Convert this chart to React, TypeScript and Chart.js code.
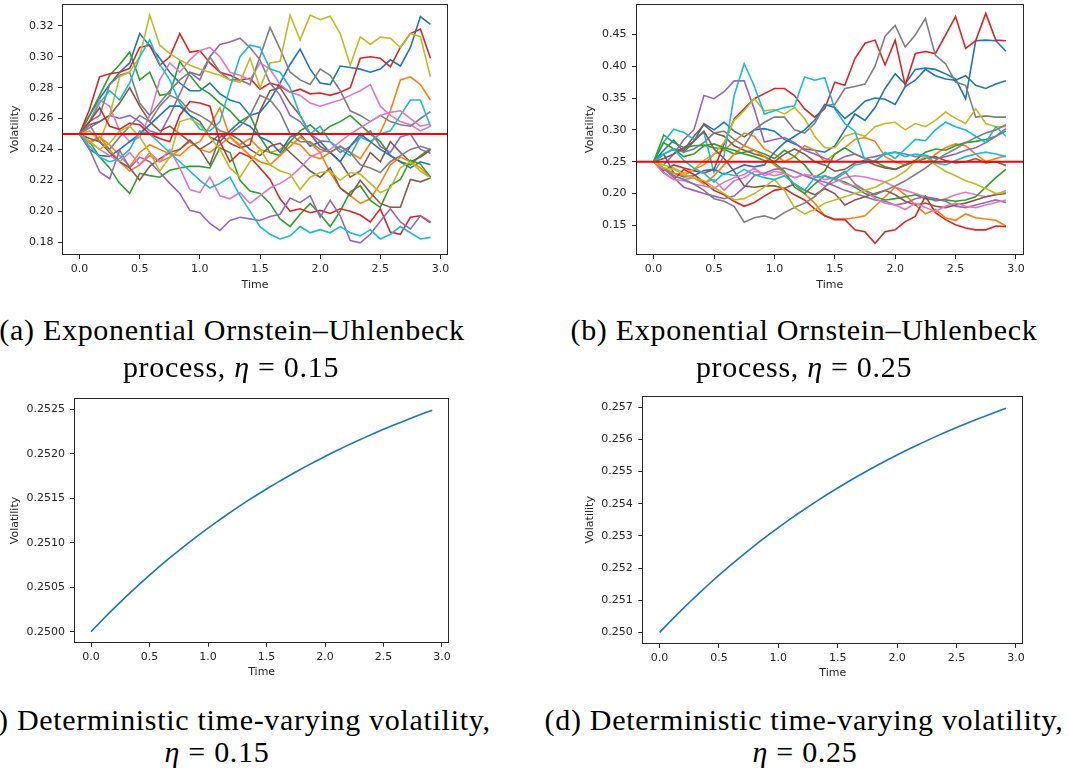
import React, { useEffect, useRef } from "react";
import { Chart, registerables } from "chart.js";

Chart.register(...registerables);

// ---------- data ----------
const timeGrid = [
  0.0, 0.0833, 0.1667, 0.25, 0.3333, 0.4167, 0.5, 0.5833, 0.6667, 0.75, 0.8333, 0.9167,
  1.0, 1.0833, 1.1667, 1.25, 1.3333, 1.4167, 1.5, 1.5833, 1.6667, 1.75, 1.8333, 1.9167,
  2.0, 2.0833, 2.1667, 2.25, 2.3333, 2.4167, 2.5, 2.5833, 2.6667, 2.75, 2.8333, 2.9167,
];
const meanLevel = 0.25;
const xTickLabels = ["0.0", "0.5", "1.0", "1.5", "2.0", "2.5", "3.0"];

// (a) exponential OU, eta = 0.15
const a00 = [.250,.262,.273,.282,.290,.296,.315,.307,.299,.290,.283,.278,.278,.283,.276,.272,.270,.262,.264,.272,.283,.295,.305,.292,.283,.282,.294,.293,.292,.290,.292,.298,.294,.306,.326,.321];
const a01 = [.250,.244,.248,.243,.236,.229,.238,.243,.240,.237,.236,.242,.245,.255,.267,.248,.243,.247,.240,.238,.240,.245,.243,.236,.234,.238,.242,.238,.234,.244,.251,.265,.285,.287,.282,.272];
const a02 = [.250,.262,.275,.288,.295,.303,.285,.290,.275,.276,.297,.288,.280,.276,.270,.265,.258,.262,.248,.238,.236,.245,.252,.256,.250,.255,.258,.262,.256,.250,.245,.236,.232,.230,.236,.2405];
const a03 = [.250,.266,.287,.289,.290,.2925,.306,.3075,.2945,.300,.315,.303,.304,.296,.290,.288,.285,.286,.279,.283,.281,.277,.279,.276,.2765,.275,.277,.280,.299,.300,.299,.2935,.306,.315,.318,.299];
const a04 = [.250,.254,.258,.262,.260,.262,.258,.252,.250,.262,.276,.290,.285,.300,.308,.3095,.312,.306,.298,.283,.275,.262,.258,.250,.2455,.245,.238,.242,.248,.252,.242,.238,.248,.250,.240,.2375];
const a05 = [.250,.256,.258,.262,.270,.280,.268,.258,.252,.255,.250,.245,.240,.244,.250,.244,.241,.243,.265,.278,.280,.270,.262,.250,.242,.238,.232,.222,.226,.238,.232,.245,.238,.232,.235,.2395];
const a06 = [.250,.258,.272,.268,.252,.245,.248,.262,.285,.296,.290,.298,.304,.306,.300,.290,.288,.285,.296,.292,.282,.277,.275,.270,.268,.270,.272,.275,.278,.282,.268,.262,.258,.256,.252,.255];
const a07 = [.250,.258,.262,.282,.288,.290,.270,.262,.270,.278,.285,.290,.288,.300,.290,.285,.285,.282,.300,.319,.305,.290,.285,.282,.292,.288,.278,.265,.262,.258,.262,.258,.256,.255,.260,.2645];
const a08 = [.250,.252,.245,.262,.287,.290,.300,.327,.3075,.302,.298,.2945,.292,.290,.288,.285,.2835,.299,.280,.296,.297,.327,.311,.327,.324,.3263,.315,.2945,.313,.308,.3127,.312,.306,.315,.313,.287];
const a09 = [.250,.258,.270,.278,.272,.283,.300,.311,.295,.285,.270,.262,.253,.252,.258,.280,.300,.3075,.306,.292,.290,.280,.262,.250,.255,.245,.240,.236,.248,.245,.250,.252,.262,.272,.272,.255];
const a10 = [.250,.240,.236,.2355,.240,.245,.250,.256,.262,.268,.268,.262,.258,.248,.245,.252,.258,.255,.248,.245,.238,.248,.250,.242,.245,.238,.232,.242,.250,.245,.240,.236,.232,.228,.232,.230];
const a11 = [.250,.245,.248,.240,.232,.226,.230,.236,.232,.235,.240,.245,.240,.238,.243,.248,.242,.236,.232,.230,.236,.242,.248,.244,.238,.225,.215,.210,.205,.208,.218,.230,.235,.232,.228,.222];
const a12 = [.250,.245,.235,.228,.218,.2115,.2245,.223,.222,.2265,.228,.229,.229,.228,.241,.238,.220,.213,.2115,.205,.195,.190,.198,.205,.198,.190,.200,.2125,.2165,.207,.2025,.2165,.2205,.233,.2305,.222];
const a13 = [.250,.258,.267,.255,.253,.257,.256,.250,.247,.245,.262,.271,.270,.268,.245,.232,.238,.235,.228,.2205,.208,.200,.2015,.199,.2005,.1985,.2015,.200,.1975,.193,.2015,.1865,.185,.196,.197,.1925];
const a14 = [.250,.240,.2255,.221,.2395,.228,.235,.232,.225,.218,.2115,.2005,.199,.192,.1875,.194,.196,.195,.194,.1965,.198,.2085,.2055,.210,.196,.207,.197,.181,.1795,.185,.1935,.2015,.193,.1885,.197,.193];
const a15 = [.250,.247,.245,.238,.232,.228,.220,.229,.234,.238,.240,.246,.240,.230,.248,.250,.246,.240,.236,.242,.244,.238,.232,.226,.222,.228,.215,.210,.220,.212,.205,.2025,.2025,.2205,.219,.2215];
const a16 = [.250,.245,.240,.236,.232,.238,.230,.238,.232,.240,.228,.214,.212,.222,.210,.208,.212,.205,.210,.215,.218,.222,.228,.235,.238,.240,.245,.250,.254,.258,.262,.264,.265,.260,.255,.2565];
const a17 = [.250,.256,.245,.240,.248,.255,.262,.258,.268,.275,.272,.265,.262,.258,.252,.250,.255,.262,.275,.272,.264,.250,.245,.245,.240,.238,.242,.238,.230,.228,.225,.232,.236,.240,.242,.240];
const a18 = [.250,.245,.240,.244,.252,.255,.248,.238,.226,.235,.258,.260,.256,.248,.240,.228,.222,.232,.240,.230,.226,.224,.214,.222,.225,.226,.220,.225,.224,.218,.212,.215,.228,.232,.226,.2215];
const a19 = [.250,.242,.235,.232,.234,.240,.252,.250,.244,.238,.232,.226,.220,.215,.218,.222,.210,.200,.190,.185,.182,.184,.190,.186,.188,.186,.190,.186,.184,.188,.182,.185,.190,.186,.182,.183];

// (b) exponential OU, eta = 0.25
const b00 = [.250,.268,.284,.265,.282,.310,.300,.312,.298,.289,.300,.302,.298,.285,.278,.270,.268,.265,.275,.300,.325,.315,.335,.365,.388,.372,.395,.397,.395,.388,.380,.349,.440,.441,.440,.4236];
const b01 = [.250,.240,.232,.228,.238,.245,.262,.268,.282,.295,.290,.270,.262,.250,.258,.275,.268,.250,.262,.272,.285,.288,.282,.258,.250,.245,.252,.248,.262,.272,.278,.275,.262,.250,.255,.259];
const b02 = [.250,.292,.280,.272,.275,.276,.272,.270,.262,.265,.268,.262,.255,.268,.258,.245,.225,.235,.262,.272,.262,.255,.250,.242,.238,.245,.252,.265,.270,.268,.275,.280,.282,.285,.290,.298];
const b03 = [.250,.236,.245,.240,.236,.232,.238,.278,.317,.333,.349,.357,.365,.365,.354,.333,.320,.333,.375,.370,.412,.436,.441,.402,.441,.370,.420,.423,.420,.449,.478,.428,.440,.483,.441,.440];
const b04 = [.250,.245,.262,.285,.300,.354,.349,.360,.377,.377,.333,.281,.285,.288,.280,.268,.262,.255,.250,.258,.262,.255,.258,.262,.265,.262,.258,.260,.255,.258,.262,.268,.272,.280,.290,.302];
const b05 = [.250,.262,.270,.268,.290,.308,.295,.290,.275,.268,.262,.258,.250,.262,.270,.262,.250,.245,.235,.238,.248,.252,.245,.240,.238,.245,.250,.255,.258,.252,.248,.250,.255,.248,.250,.244];
const b06 = [.250,.238,.228,.222,.225,.218,.222,.205,.220,.225,.235,.232,.228,.232,.225,.230,.222,.212,.218,.225,.228,.226,.222,.218,.210,.205,.200,.195,.188,.192,.198,.202,.198,.195,.198,.205];
const b07 = [.250,.262,.270,.265,.270,.280,.295,.298,.285,.275,.300,.312,.320,.320,.300,.295,.310,.338,.340,.365,.368,.372,.400,.447,.464,.430,.449,.475,.417,.404,.375,.370,.320,.322,.320,.320];
const b08 = [.250,.245,.240,.232,.238,.252,.262,.280,.315,.330,.349,.330,.332,.325,.335,.318,.290,.272,.272,.290,.295,.290,.305,.310,.312,.300,.310,.305,.315,.328,.318,.310,.333,.310,.305,.305];
const b09 = [.250,.281,.301,.296,.285,.296,.233,.259,.354,.404,.369,.325,.330,.335,.338,.383,.378,.382,.333,.310,.298,.252,.250,.265,.255,.270,.285,.283,.300,.312,.305,.300,.290,.280,.305,.290];
const b10 = [.250,.262,.232,.226,.228,.236,.238,.230,.238,.245,.242,.245,.265,.280,.290,.300,.315,.340,.335,.318,.330,.345,.350,.348,.340,.368,.378,.395,.385,.380,.378,.385,.370,.365,.372,.377];
const b11 = [.250,.240,.232,.228,.225,.215,.228,.245,.262,.275,.268,.258,.245,.232,.215,.200,.185,.165,.160,.160,.162,.165,.180,.195,.210,.198,.182,.168,.175,.162,.158,.168,.162,.160,.158,.149];
const b12 = [.250,.280,.270,.258,.262,.275,.278,.272,.268,.262,.258,.252,.248,.235,.210,.200,.215,.228,.222,.218,.210,.200,.195,.190,.192,.195,.198,.192,.190,.190,.188,.190,.195,.210,.225,.238];
const b13 = [.250,.233,.222,.238,.230,.218,.205,.198,.188,.180,.186,.196,.205,.208,.198,.190,.176,.165,.159,.159,.143,.140,.122,.140,.143,.156,.164,.196,.170,.159,.151,.146,.143,.143,.149,.148];
const b14 = [.250,.240,.225,.210,.205,.200,.196,.192,.196,.210,.228,.232,.238,.240,.235,.228,.222,.218,.212,.205,.200,.195,.190,.188,.182,.185,.192,.195,.192,.188,.180,.178,.182,.186,.190,.186];
const b15 = [.250,.255,.262,.272,.282,.298,.270,.255,.235,.212,.210,.212,.212,.208,.215,.205,.198,.208,.200,.182,.190,.195,.200,.205,.198,.188,.182,.185,.180,.178,.182,.185,.190,.195,.198,.200];
const b16 = [.250,.232,.222,.220,.215,.212,.208,.218,.225,.230,.240,.228,.235,.232,.225,.230,.228,.222,.225,.215,.212,.205,.192,.185,.182,.175,.185,.178,.172,.180,.185,.180,.178,.182,.186,.190];
const b17 = [.250,.240,.228,.222,.215,.205,.192,.188,.180,.155,.162,.165,.160,.170,.178,.185,.195,.210,.225,.235,.215,.205,.198,.205,.212,.220,.230,.240,.252,.262,.270,.280,.288,.295,.300,.308];
const b18 = [.250,.240,.238,.230,.225,.220,.210,.200,.190,.192,.200,.210,.222,.205,.178,.168,.175,.185,.190,.195,.200,.205,.210,.218,.225,.235,.250,.258,.245,.235,.228,.220,.215,.208,.200,.202];
const b19 = [.250,.262,.270,.252,.240,.232,.218,.232,.228,.238,.230,.225,.222,.228,.215,.205,.225,.228,.222,.232,.245,.248,.252,.262,.265,.258,.262,.260,.248,.245,.252,.258,.262,.265,.262,.258];

// (c) deterministic, eta = 0.15
const detVol015 = [0.250000,0.250114,0.250225,0.250332,0.250437,0.250538,0.250636,0.250731,0.250823,0.250912,0.250999,0.251083,0.251165,0.251244,0.251320,0.251395,0.251467,0.251537,0.251604,0.251670,0.251734,0.251796,0.251856,0.251914,0.251970,0.252025,0.252078,0.252130,0.252179,0.252228,0.252275,0.252320,0.252364,0.252407,0.252449,0.252489];
// (d) deterministic, eta = 0.25
const detVol025 = [0.250000,0.250320,0.250630,0.250931,0.251223,0.251506,0.251780,0.252046,0.252304,0.252554,0.252797,0.253033,0.253261,0.253482,0.253697,0.253905,0.254107,0.254303,0.254492,0.254677,0.254855,0.255028,0.255196,0.255359,0.255517,0.255670,0.255819,0.255963,0.256103,0.256238,0.256369,0.256497,0.256620,0.256740,0.256856,0.256969];

const pathsA = [a00,a01,a02,a03,a04,a05,a06,a07,a08,a09,a10,a11,a12,a13,a14,a15,a16,a17,a18,a19];
const pathsB = [b00,b01,b02,b03,b04,b05,b06,b07,b08,b09,b10,b11,b12,b13,b14,b15,b16,b17,b18,b19];

const tab10 = ["#1f77b4","#ff7f0e","#2ca02c","#d62728","#9467bd","#8c564b","#e377c2","#7f7f7f","#bcbd22","#17becf"];

// ---------- helpers ----------
const FONT = { family: "'DejaVu Sans', sans-serif", size: 11 };
const TEXT = "#262626";

const framePlugin = {
  id: "frame",
  afterDraw(chart: any) {
    const { ctx, chartArea } = chart;
    const l = Math.round(chartArea.left) + 0.5;
    const t = Math.round(chartArea.top) + 0.5;
    const r = Math.round(chartArea.right) - 0.5;
    const b = Math.round(chartArea.bottom) - 0.5;
    ctx.save();
    ctx.strokeStyle = "#262626";
    ctx.lineWidth = 1;
    ctx.strokeRect(l, t, r - l, b - t);
    ctx.restore();
  },
};

function pathDatasets(paths: number[][], xMin: number, xMax: number) {
  const ds: any[] = paths.map((p, i) => ({
    data: p.map((v, k) => ({ x: timeGrid[k], y: v })),
    borderColor: tab10[i % 10],
    borderWidth: 1.6,
    pointRadius: 0,
    fill: false,
    order: 100 - i,
  }));
  ds.push({
    data: [{ x: xMin, y: meanLevel }, { x: xMax, y: meanLevel }],
    borderColor: "#ff0000",
    borderWidth: 2,
    pointRadius: 0,
    fill: false,
    order: 0,
  });
  return ds;
}

type PanelProps = {
  left: number; top: number; width: number; height: number;
  pad: { left: number; top: number; right: number; bottom: number };
  yWidth: number; xHeight: number;
  xMin: number; xMax: number; yMin: number; yMax: number;
  yStep: number; yDigits: number; yPad: number;
  datasets: any[];
};

function Panel(p: PanelProps) {
  const ref = useRef<HTMLCanvasElement>(null);
  useEffect(() => {
    const chart = new Chart(ref.current as HTMLCanvasElement, {
      type: "line",
      data: { datasets: p.datasets },
      options: {
        animation: false,
        responsive: false,
        maintainAspectRatio: false,
        devicePixelRatio: 1,
        layout: { padding: p.pad },
        plugins: { legend: { display: false }, tooltip: { enabled: false } },
        elements: { line: { tension: 0 }, point: { radius: 0 } },
        scales: {
          x: {
            type: "linear",
            min: p.xMin,
            max: p.xMax,
            afterFit: (s: any) => {
              s.height = p.xHeight;
              s.paddingLeft = 0;
              s.paddingRight = 0;
            },
            ticks: {
              stepSize: 0.5,
              includeBounds: false,
              autoSkip: false,
              maxRotation: 0,
              padding: 4,
              font: FONT,
              color: TEXT,
              callback: (v: any) => {
                const idx = Math.round(Number(v) * 2);
                return xTickLabels[idx] ?? Number(v).toFixed(1);
              },
            },
            grid: { drawOnChartArea: false, color: "rgba(0,0,0,0)", tickColor: "#262626", tickLength: 4, tickWidth: 1 },
            border: { display: false },
            title: { display: true, text: "Time", font: FONT, color: TEXT, padding: 0 },
          },
          y: {
            type: "linear",
            min: p.yMin,
            max: p.yMax,
            afterFit: (s: any) => {
              s.width = p.yWidth;
              s.paddingTop = 0;
              s.paddingBottom = 0;
            },
            ticks: {
              stepSize: p.yStep,
              includeBounds: false,
              autoSkip: false,
              padding: p.yPad,
              font: FONT,
              color: TEXT,
              callback: (v: any) => Number(v).toFixed(p.yDigits),
            },
            grid: { drawOnChartArea: false, color: "rgba(0,0,0,0)", tickColor: "#262626", tickLength: 4, tickWidth: 1 },
            border: { display: false },
            title: { display: true, text: "Volatility", font: FONT, color: TEXT, padding: 0 },
          },
        },
      } as any,
      plugins: [framePlugin],
    });
    return () => chart.destroy();
  }, []);
  return (
    <canvas
      ref={ref}
      width={p.width}
      height={p.height}
      style={{ position: "absolute", left: p.left, top: p.top, width: p.width, height: p.height }}
    />
  );
}

function Caption({ cx, cy, children }: { cx: number; cy: number; children: any }) {
  const size = 30;
  return (
    <div
      style={{
        position: "absolute",
        left: cx - 400,
        width: 800,
        top: cy - size * 0.58 + 2,
        fontFamily: "'Liberation Serif', 'Times New Roman', serif",
        fontSize: size,
        letterSpacing: "0.7px",
        lineHeight: `${size}px`,
        textAlign: "center",
        whiteSpace: "nowrap",
        color: "#000",
      }}
    >
      {children}
    </div>
  );
}

const axA = { xMin: -0.1458, xMax: 3.0625 };

export default function App() {
  const detA = [{ data: detVol015.map((v, k) => ({ x: timeGrid[k], y: v })), borderColor: tab10[0], borderWidth: 1.6, pointRadius: 0, fill: false }];
  const detB = [{ data: detVol025.map((v, k) => ({ x: timeGrid[k], y: v })), borderColor: tab10[0], borderWidth: 1.6, pointRadius: 0, fill: false }];
  return (
    <div style={{ position: "fixed", left: 0, top: 0, width: 1069, height: 774, background: "#fff", overflow: "hidden" }}>
      <Panel
        left={0} top={0} width={460} height={300}
        pad={{ left: 9, top: 3.5, right: 12, bottom: 8.4 }}
        yWidth={53} xHeight={36.6}
        xMin={axA.xMin} xMax={axA.xMax} yMin={0.1716} yMax={0.3345}
        yStep={0.02} yDigits={2} yPad={4.5}
        datasets={pathDatasets(pathsA, axA.xMin, axA.xMax)}
      />
      <Panel
        left={570} top={0} width={465} height={300}
        pad={{ left: 13.4, top: 3.5, right: 11.5, bottom: 8.4 }}
        yWidth={52.6} xHeight={36.6}
        xMin={axA.xMin} xMax={axA.xMax} yMin={0.1035} yMax={0.4985}
        yStep={0.05} yDigits={2} yPad={5.5}
        datasets={pathDatasets(pathsB, axA.xMin, axA.xMax)}
      />
      <Panel
        left={0} top={380} width={465} height={310}
        pad={{ left: 9, top: 18.3, right: 15.7, bottom: 11.4 }}
        yWidth={65} xHeight={35.9}
        xMin={axA.xMin} xMax={axA.xMax} yMin={0.249876} yMax={0.252624}
        yStep={0.0005} yDigits={4} yPad={5}
        datasets={detA}
      />
      <Panel
        left={570} top={380} width={465} height={310}
        pad={{ left: 13.4, top: 15.7, right: 11.7, bottom: 10.4 }}
        yWidth={58.9} xHeight={35.6}
        xMin={axA.xMin} xMax={axA.xMax} yMin={0.24964} yMax={0.25736}
        yStep={0.001} yDigits={3} yPad={5.5}
        datasets={detB}
      />
      <Caption cx={232} cy={330}>(a) Exponential Ornstein–Uhlenbeck</Caption>
      <Caption cx={231} cy={367}>process, <i>η</i> = 0.15</Caption>
      <Caption cx={804} cy={330}>(b) Exponential Ornstein–Uhlenbeck</Caption>
      <Caption cx={804} cy={367}>process, <i>η</i> = 0.25</Caption>
      <Caption cx={232} cy={720}>(c) Deterministic time-varying volatility,</Caption>
      <Caption cx={217} cy={752}><i>η</i> = 0.15</Caption>
      <Caption cx={804} cy={720}>(d) Deterministic time-varying volatility,</Caption>
      <Caption cx={805} cy={752}><i>η</i> = 0.25</Caption>
    </div>
  );
}
